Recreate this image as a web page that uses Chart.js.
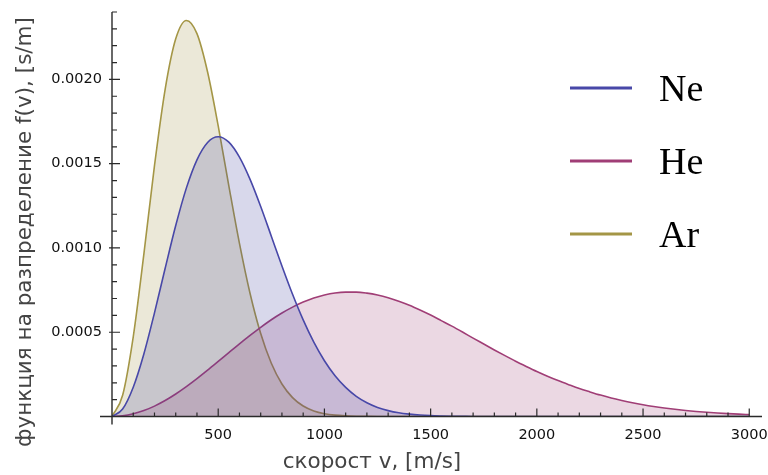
<!DOCTYPE html>
<html>
<head>
<meta charset="utf-8">
<script src="https://cdn.jsdelivr.net/npm/chart.js@4"></script>
<style>
  html, body { margin: 0; padding: 0; background: #fff; }
  #wrap { width: 768px; height: 475px; position: relative; }
</style>
</head>
<body>
<div id="wrap"><canvas id="chart"></canvas></div>
<script>
// speed, m/s
const speed = [
  0, 50, 100, 150, 200, 250, 300, 350, 400, 450,
  500, 550, 600, 650, 700, 750, 800, 850, 900, 950,
  1000, 1050, 1100, 1150, 1200, 1250, 1300, 1350, 1400, 1450,
  1500, 1550, 1600, 1650, 1700, 1750, 1800, 1850, 1900, 1950,
  2000, 2050, 2100, 2150, 2200, 2250, 2300, 2350, 2400, 2450,
  2500, 2550, 2600, 2650, 2700, 2750, 2800, 2850, 2900, 2950,
  3000
];

// f(v), s/m
const neValues = [
  0, 0.0000447, 0.000174, 0.000371, 0.000615, 0.000878, 0.001133, 0.001355, 0.001523, 0.001626,
  0.001660, 0.001628, 0.001539, 0.001407, 0.001246, 0.001070, 0.000893, 0.000725, 0.000573, 0.000441,
  0.000331, 0.000242, 0.000173, 0.000120, 0.000082, 0.000054, 0.000035, 0.000022, 0.000014, 0.0000085,
  0.000005, 0.000003, 0.0000016, 0.0000008, 0, 0, 0, 0, 0, 0,
  0, 0, 0, 0, 0, 0, 0, 0, 0, 0,
  0, 0, 0, 0, 0, 0, 0, 0, 0, 0,
  0
];

const heValues = [
  0, 0.000004, 0.0000158, 0.0000352, 0.0000617, 0.0000947, 0.0001335, 0.000177, 0.0002245, 0.0002747,
  0.0003266, 0.000379, 0.000431, 0.000481, 0.000529, 0.000574, 0.000614, 0.000649, 0.000679, 0.000703,
  0.000721, 0.000733, 0.000738, 0.000738, 0.000732, 0.000721, 0.000705, 0.000684, 0.000660, 0.000632,
  0.000602, 0.000569, 0.000536, 0.000501, 0.000465, 0.000430, 0.000395, 0.000361, 0.000328, 0.000297,
  0.000267, 0.000239, 0.000213, 0.000189, 0.000166, 0.000146, 0.000127, 0.000110, 0.0000953, 0.0000819,
  0.0000701, 0.0000597, 0.0000506, 0.0000427, 0.0000359, 0.0000300, 0.0000249, 0.0000206, 0.0000170, 0.0000140,
  0.0000114
];

const arValues = [
  0, 0.000126, 0.000473, 0.000963, 0.001488, 0.001940, 0.002241, 0.002350, 0.002272, 0.002044,
  0.001724, 0.001369, 0.001027, 0.000730, 0.000492, 0.000316, 0.000193, 0.000112, 0.000062, 0.000033,
  0.0000168, 0.0000081, 0.0000038, 0.0000016, 0.0000006, 0, 0, 0, 0, 0,
  0, 0, 0, 0, 0, 0, 0, 0, 0, 0,
  0, 0, 0, 0, 0, 0, 0, 0, 0, 0,
  0, 0, 0, 0, 0, 0, 0, 0, 0, 0,
  0
];

const seriesNames = ["Ne", "He", "Ar"];
const xTicks = [500, 1000, 1500, 2000, 2500, 3000];
const yTicks = [0.0005, 0.0010, 0.0015, 0.0020];

const lineColors = ["rgb(72,72,168)", "rgb(160,62,118)", "rgb(164,150,70)"];
const fillColors = ["rgba(61,61,153,0.2)", "rgba(153,61,113,0.2)", "rgba(153,139,61,0.2)"];

const xTitle = "скорост v, [m/s]";
const yTitle = "функция на разпределение f(v), [s/m]";

function points(values) {
  return speed.map((v, i) => ({ x: v, y: values[i] }));
}

// axes with inward ticks, titles and legend, Mathematica style
const decorPlugin = {
  id: "decor",
  afterDatasetsDraw(chart) {
    const ctx = chart.ctx;
    const xs = chart.scales.x;
    const ys = chart.scales.y;
    const x0 = xs.getPixelForValue(0);
    const y0 = ys.getPixelForValue(0);

    ctx.save();
    ctx.strokeStyle = "#2a2a2a";
    ctx.lineWidth = 1.4;
    ctx.beginPath();
    ctx.moveTo(x0 - 12, y0);
    ctx.lineTo(xs.right, y0);
    ctx.moveTo(x0, y0 + 8);
    ctx.lineTo(x0, ys.top);
    ctx.stroke();

    ctx.lineWidth = 1.2;
    ctx.beginPath();
    for (let v = 100; v <= 3000; v += 100) {
      const px = xs.getPixelForValue(v);
      const len = v % 500 === 0 ? 8 : 4;
      ctx.moveTo(px, y0);
      ctx.lineTo(px, y0 - len);
    }
    for (let k = 1; k <= 24; k++) {
      const py = ys.getPixelForValue(k * 0.0001);
      const major = k % 5 === 0;
      ctx.moveTo(x0 - (major ? 3 : 0), py);
      ctx.lineTo(x0 + (major ? 8 : 5), py);
    }
    ctx.stroke();

    // axis titles
    ctx.fillStyle = "#444";
    ctx.font = "21.5px 'DejaVu Sans'";
    ctx.textAlign = "center";
    ctx.textBaseline = "middle";
    ctx.fillText(xTitle, 372, 462);
    ctx.translate(25, 232);
    ctx.rotate(-Math.PI / 2);
    ctx.fillText(yTitle, 0, 0);
    ctx.restore();

    // legend
    ctx.save();
    ctx.font = "38px 'Liberation Serif'";
    ctx.textAlign = "left";
    ctx.textBaseline = "alphabetic";
    chart.data.datasets.forEach((ds, i) => {
      const ly = 88 + i * 73;
      ctx.strokeStyle = ds.borderColor;
      ctx.lineWidth = 3.2;
      ctx.beginPath();
      ctx.moveTo(570, ly);
      ctx.lineTo(632, ly);
      ctx.stroke();
      ctx.fillStyle = "#000";
      ctx.fillText(ds.label, 659, ly + 12.5);
    });
    ctx.restore();
  }
};

new Chart(document.getElementById("chart"), {
  type: "line",
  data: {
    datasets: [
      { label: seriesNames[0], data: points(neValues), borderColor: lineColors[0], backgroundColor: fillColors[0] },
      { label: seriesNames[1], data: points(heValues), borderColor: lineColors[1], backgroundColor: fillColors[1] },
      { label: seriesNames[2], data: points(arValues), borderColor: lineColors[2], backgroundColor: fillColors[2] }
    ].map(d => Object.assign(d, {
      fill: "origin",
      borderWidth: 1.6,
      pointRadius: 0,
      cubicInterpolationMode: "monotone"
    }))
  },
  options: {
    responsive: true,
    maintainAspectRatio: false,
    animation: false,
    devicePixelRatio: 1,
    layout: { padding: { top: 12, right: 6, left: 0, bottom: 0 } },
    plugins: { legend: { display: false }, tooltip: { enabled: false } },
    scales: {
      x: {
        type: "linear",
        min: 0,
        max: 3060,
        grid: { display: false, drawTicks: false },
        border: { display: false },
        ticks: {
          padding: 10,
          maxRotation: 0,
          autoSkip: false,
          color: "#111",
          font: { family: "DejaVu Sans", size: 14.5 },
          callback: v => String(v)
        },
        afterBuildTicks: s => { s.ticks = xTicks.map(v => ({ value: v })); },
        afterFit: s => { s.height = 58.5; s.paddingLeft = 0; s.paddingRight = 0; }
      },
      y: {
        min: 0,
        max: 0.0024,
        grid: { display: false, drawTicks: false },
        border: { display: false },
        ticks: {
          padding: 10,
          autoSkip: false,
          color: "#111",
          font: { family: "DejaVu Sans", size: 14.5 },
          callback: v => v.toFixed(4)
        },
        afterBuildTicks: s => { s.ticks = yTicks.map(v => ({ value: v })); },
        afterFit: s => { s.width = 112; s.paddingTop = 0; s.paddingBottom = 0; }
      }
    }
  },
  plugins: [decorPlugin]
});
</script>
</body>
</html>
